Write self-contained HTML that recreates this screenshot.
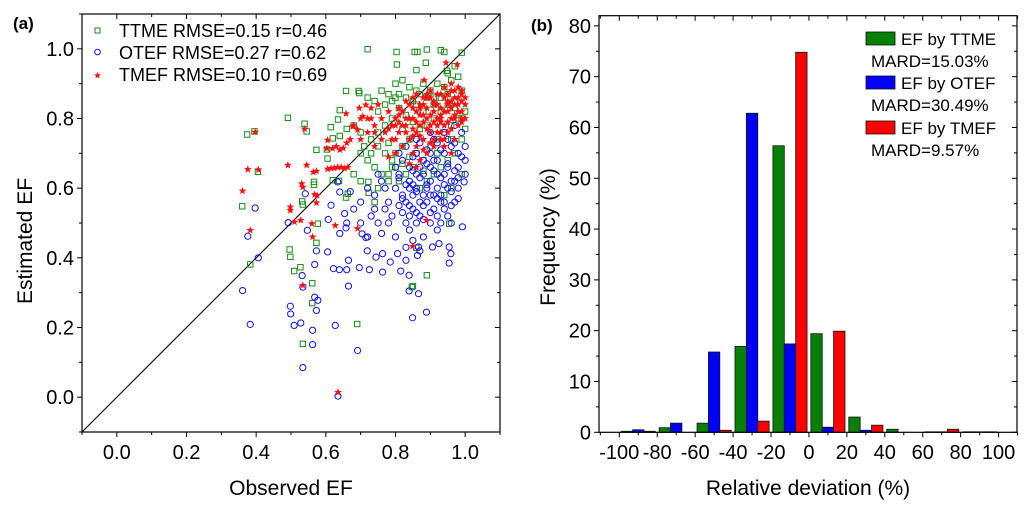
<!DOCTYPE html>
<html><head><meta charset="utf-8">
<style>
html,body{margin:0;padding:0;background:#fff;}
svg{display:block;font-family:"Liberation Sans",Arial,sans-serif;}
</style></head>
<body>
<svg id="fig" width="1024" height="508" viewBox="0 0 1024 508">
  <g id="pa"></g>
  <g id="pb"></g>
</svg>
<script>
// ---------- Panel (a) data ----------
const ttmeX = [0.374,0.395,0.36,0.405,0.383,0.491,0.539,0.545,0.573,0.566,0.566,0.532,0.534,0.577,0.573,0.496,0.498,0.509,0.527,0.561,0.561,0.534,0.69,0.72,0.803,0.855,0.863,0.89,0.93,0.94,0.99,0.887,0.804,0.86,0.947,0.658,0.694,0.696,0.64,0.635,0.614,0.62,0.603,0.605,0.62,0.638,0.663,0.658,0.722,0.723,0.954,0.89,0.847,0.85,0.86,0.79,
0.72,0.74,0.76,0.78,0.80,0.82,0.84,0.86,0.88,0.9,0.92,0.94,0.96,0.98,0.99,0.97,0.95,0.93,0.91,0.89,0.87,0.85,0.83,0.81,0.79,0.77,0.75,0.73,0.71,0.7,0.72,0.74,0.76,0.78,0.8,0.82,0.84,0.86,0.88,0.9,0.92,0.94,0.96,0.98,1.0,1.0,0.99,0.97,0.95,0.93,0.91,0.89,0.87,0.85,0.83,0.81,0.79,0.77,0.75,0.73,0.7,0.68,0.66,0.64,0.7,0.68,0.96,0.94,0.99,0.86,0.88,0.8,0.82,0.91,0.97,0.95,0.78,0.75,0.74,
0.75,0.77,0.79,0.81,0.83,0.85,0.87,0.89,0.91,0.93,0.95,0.97,0.99,0.8,0.84,0.88,0.92,0.96,0.78,0.82];
const ttmeY = [0.754,0.763,0.548,0.647,0.381,0.802,0.785,0.763,0.71,0.618,0.61,0.562,0.553,0.498,0.443,0.424,0.403,0.362,0.373,0.327,0.27,0.153,0.21,0.999,0.991,0.991,0.991,0.998,0.996,0.991,0.989,0.96,0.955,0.939,0.937,0.879,0.879,0.873,0.824,0.797,0.775,0.743,0.711,0.685,0.623,0.621,0.584,0.573,0.618,0.587,0.498,0.35,0.316,0.319,0.429,0.66,
0.86,0.85,0.88,0.87,0.9,0.91,0.89,0.88,0.9,0.88,0.9,0.89,0.91,0.92,0.88,0.85,0.84,0.82,0.8,0.78,0.77,0.79,0.81,0.83,0.8,0.78,0.76,0.74,0.72,0.7,0.68,0.66,0.64,0.62,0.7,0.72,0.74,0.7,0.68,0.72,0.74,0.76,0.78,0.8,0.82,0.77,0.74,0.7,0.68,0.66,0.64,0.62,0.6,0.66,0.64,0.62,0.68,0.7,0.72,0.7,0.76,0.78,0.77,0.75,0.62,0.64,0.6,0.58,0.64,0.84,0.82,0.86,0.77,0.86,0.95,0.93,0.73,0.6,0.56,
0.82,0.84,0.85,0.87,0.86,0.85,0.87,0.86,0.84,0.86,0.87,0.83,0.8,0.66,0.69,0.65,0.7,0.74,0.64,0.67];
const otefX = [0.361,0.383,0.376,0.397,0.406,0.492,0.498,0.499,0.509,0.528,0.534,0.532,0.534,0.541,0.547,0.568,0.568,0.577,0.573,0.562,0.562,0.573,0.605,0.615,0.607,0.622,0.639,0.627,0.635,0.634,0.64,0.654,0.658,0.665,0.665,0.66,0.691,0.696,0.719,0.725,0.704,0.715,0.744,0.763,0.763,0.785,0.806,0.815,0.83,0.839,0.839,0.866,0.849,0.889,0.866,0.863,0.906,0.925,0.954,0.959,0.954,0.997,0.992,
0.72,0.74,0.76,0.78,0.8,0.82,0.84,0.86,0.88,0.9,0.92,0.94,0.96,0.98,1.0,0.73,0.75,0.77,0.79,0.81,0.83,0.85,0.87,0.89,0.91,0.93,0.95,0.97,0.72,0.76,0.8,0.84,0.88,0.92,0.96,0.8,0.82,0.84,0.86,0.88,0.9,0.92,0.94,0.96,0.98,1.0,0.86,0.9,0.94,0.97,0.99,0.92,0.83,0.85,0.87,0.89,0.91,0.93,0.86,0.88,0.84,0.9,0.92,0.95,0.97,0.7,0.68,0.66,0.64,0.67,0.7,0.74,0.78,0.82,0.86,0.9,0.94,0.98,1.0,0.81,0.77,0.75,0.85,0.83,0.87,
0.81,0.83,0.85,0.87,0.89,0.91,0.93,0.95,0.97,0.99,0.82,0.84,0.86,0.88,0.9,0.92,0.94,0.96,0.98,0.81,0.83,0.85,0.87,0.89,0.91,0.93,0.95,0.97,0.84,0.86,0.88,0.9,0.92,0.94,0.96,0.98,0.85,0.87,0.89,0.91,0.93,0.95];
const otefY = [0.306,0.209,0.462,0.543,0.4,0.501,0.261,0.239,0.206,0.213,0.085,0.349,0.316,0.584,0.479,0.381,0.287,0.278,0.249,0.192,0.151,0.42,0.417,0.551,0.51,0.369,0.366,0.206,0.003,0.618,0.589,0.527,0.486,0.393,0.319,0.366,0.134,0.372,0.42,0.366,0.469,0.458,0.402,0.412,0.359,0.388,0.412,0.362,0.393,0.35,0.305,0.297,0.228,0.244,0.431,0.407,0.431,0.441,0.385,0.412,0.431,0.618,0.489,
0.6,0.58,0.62,0.56,0.6,0.58,0.62,0.6,0.64,0.62,0.6,0.64,0.62,0.66,0.64,0.52,0.5,0.54,0.52,0.55,0.5,0.54,0.52,0.56,0.54,0.5,0.52,0.56,0.46,0.47,0.46,0.48,0.46,0.48,0.5,0.66,0.68,0.66,0.7,0.68,0.7,0.68,0.7,0.72,0.7,0.72,0.74,0.76,0.76,0.78,0.76,0.73,0.56,0.58,0.56,0.6,0.58,0.56,0.64,0.58,0.6,0.66,0.64,0.6,0.62,0.56,0.54,0.5,0.47,0.59,0.5,0.54,0.5,0.53,0.5,0.5,0.54,0.6,0.68,0.64,0.6,0.64,0.45,0.43,0.42,
0.63,0.61,0.65,0.63,0.67,0.65,0.63,0.67,0.65,0.69,0.57,0.55,0.59,0.55,0.58,0.57,0.61,0.59,0.63,0.7,0.72,0.69,0.73,0.71,0.74,0.71,0.74,0.73,0.52,0.53,0.51,0.53,0.52,0.56,0.55,0.57,0.61,0.66,0.61,0.68,0.58,0.66];
const tmefX = [0.397,0.376,0.361,0.383,0.406,0.491,0.545,0.531,0.534,0.498,0.498,0.51,0.528,0.539,0.564,0.573,0.568,0.575,0.573,0.56,0.562,0.534,0.627,0.635,0.691,0.849,0.889,0.605,0.615,0.624,0.634,0.644,0.653,0.663,0.603,0.619,0.63,0.64,0.65,0.66,0.67,0.605,0.658,0.677,0.691,0.696,0.706,0.715,0.945,0.977,0.882,
0.76,0.78,0.8,0.82,0.84,0.86,0.88,0.9,0.92,0.94,0.96,0.98,1.0,0.77,0.79,0.81,0.83,0.85,0.87,0.89,0.91,0.93,0.95,0.97,0.99,0.8,0.82,0.84,0.86,0.88,0.9,0.92,0.94,0.96,0.98,1.0,0.85,0.87,0.89,0.91,0.93,0.95,0.97,0.84,0.86,0.9,0.92,0.94,0.96,0.98,0.99,0.88,0.86,0.74,0.72,0.7,0.72,0.74,0.7,0.68,0.75,0.73,0.83,0.85,0.87,0.89,0.91,0.93,0.95,0.97,0.99,0.81,0.79,0.78,0.8,0.94,0.96,
0.81,0.83,0.85,0.87,0.89,0.91,0.93,0.95,0.97,0.99,0.82,0.84,0.86,0.88,0.9,0.92,0.94,0.96,0.98,1.0,0.81,0.83,0.85,0.87,0.89,0.91,0.93,0.95,0.97,0.99,0.86,0.88,0.9,0.92,0.94,0.96,0.98,0.87,0.89,0.91,0.93,0.95,0.97,0.78,0.8,0.76,0.74,0.73,0.9,0.93,0.96,0.99,0.88,0.85];
const tmefY = [0.761,0.654,0.592,0.479,0.653,0.666,0.666,0.613,0.603,0.546,0.536,0.503,0.508,0.77,0.646,0.649,0.582,0.579,0.558,0.498,0.46,0.321,0.493,0.014,0.484,0.433,0.508,0.655,0.657,0.658,0.66,0.66,0.657,0.66,0.714,0.714,0.72,0.71,0.715,0.73,0.74,0.738,0.814,0.777,0.768,0.83,0.806,0.839,0.96,0.955,0.91,
0.8,0.82,0.8,0.82,0.84,0.82,0.84,0.86,0.84,0.86,0.88,0.86,0.84,0.76,0.78,0.76,0.78,0.8,0.78,0.8,0.82,0.8,0.82,0.84,0.82,0.74,0.72,0.74,0.76,0.74,0.76,0.78,0.78,0.8,0.78,0.8,0.7,0.68,0.7,0.72,0.74,0.76,0.74,0.67,0.66,0.88,0.87,0.89,0.9,0.89,0.87,0.86,0.87,0.78,0.76,0.74,0.8,0.72,0.8,0.78,0.84,0.83,0.8,0.83,0.81,0.83,0.79,0.83,0.85,0.81,0.85,0.79,0.74,0.69,0.7,0.72,0.7,
0.83,0.85,0.86,0.83,0.87,0.84,0.87,0.87,0.86,0.88,0.78,0.8,0.79,0.81,0.78,0.8,0.82,0.83,0.84,0.86,0.81,0.76,0.77,0.75,0.77,0.74,0.76,0.79,0.8,0.79,0.72,0.71,0.73,0.76,0.74,0.77,0.82,0.84,0.86,0.85,0.81,0.84,0.88,0.77,0.78,0.74,0.76,0.8,0.81,0.79,0.85,0.8,0.79,0.75];
const axTicksA = [0.0,0.2,0.4,0.6,0.8,1.0];
const axTickLabelsA = ["0.0","0.2","0.4","0.6","0.8","1.0"];

// ---------- Panel (b) data ----------
const binCenters = [-90,-70,-50,-30,-10,10,30,50,70,90];
const freqTTME = [0.2,0.9,1.8,16.9,56.4,19.4,3.0,0.6,0.1,0.1];
const freqOTEF = [0.5,1.8,15.8,62.8,17.4,1.0,0.4,0.0,0.1,0.1];
const freqTMEF = [0.2,0.0,0.4,2.2,74.8,19.9,1.4,0.0,0.6,0.1];
const xTicksB = [-100,-80,-60,-40,-20,0,20,40,60,80,100];
const yTicksB = [0,10,20,30,40,50,60,70,80];

const NS = "http://www.w3.org/2000/svg";
function mk(parent, tag, attrs, text){
  const e = document.createElementNS(NS, tag);
  for (const k in attrs) e.setAttribute(k, attrs[k]);
  if (text !== undefined) e.textContent = text;
  parent.appendChild(e);
  return e;
}

// ===== Panel (a) =====
const pa = document.getElementById('pa');
const A = {l:82,r:500,t:14,b:432,min:-0.1,max:1.1};
const ax = v => A.l + (v - A.min)/(A.max - A.min)*(A.r - A.l);
const ay = v => A.b - (v - A.min)/(A.max - A.min)*(A.b - A.t);

let ln = mk(pa,'line',{x1:ax(-0.1),y1:ay(-0.1),x2:ax(1.1),y2:ay(1.1),stroke:'#000','stroke-width':1.1});



function starPath(cx,cy,R){
  const r = R*0.42; let d='';
  for(let i=0;i<10;i++){
    const a = -Math.PI/2 + i*Math.PI/5;
    const rr = i%2===0?R:r;
    d += (i===0?'M':'L') + (cx+rr*Math.cos(a)).toFixed(2)+','+(cy+rr*Math.sin(a)).toFixed(2);
  }
  return d+'Z';
}
const gG = mk(pa,'g',{});


for(let i=0;i<Math.min(ttmeX.length,ttmeY.length);i++){
  const m = mk(gG,'rect',{x:ax(ttmeX[i])-2.7,y:ay(ttmeY[i])-2.7,width:5.4,height:5.4,fill:'none',stroke:'#1a8a1a','stroke-width':1});
  
  
}
const gB = mk(pa,'g',{});


for(let i=0;i<Math.min(otefX.length,otefY.length);i++){
  const m = mk(gB,'circle',{cx:ax(otefX[i]),cy:ay(otefY[i]),r:3.1,fill:'none',stroke:'#1010f0','stroke-width':1});
  
  
}
const gR = mk(pa,'g',{});


for(let i=0;i<Math.min(tmefX.length,tmefY.length);i++){
  const m = mk(gR,'path',{d:starPath(ax(tmefX[i]),ay(tmefY[i]),4.1),fill:'#ff1010'});
  
  
}

let fr = mk(pa,'rect',{x:A.l,y:A.t,width:A.r-A.l,height:A.b-A.t,fill:'none',stroke:'#000','stroke-width':1.2});


for(let k=-1; k<=11; k++){
  const v = k/10;
  const major = k%2===0;
  const L = major?5:3;
  const X = ax(v), Y = ay(v);
  mk(pa,'line',{x1:X,y1:A.b,x2:X,y2:A.b+L,stroke:'#000','stroke-width':1});
  mk(pa,'line',{x1:X,y1:A.t,x2:X,y2:A.t+L,stroke:'#000','stroke-width':1});
  mk(pa,'line',{x1:A.l-L,y1:Y,x2:A.l,y2:Y,stroke:'#000','stroke-width':1});
  mk(pa,'line',{x1:A.r-L,y1:Y,x2:A.r,y2:Y,stroke:'#000','stroke-width':1});
}
axTicksA.forEach((v,i)=>{
  let t = mk(pa,'text',{x:ax(v),y:459,'font-size':20,'text-anchor':'middle'},axTickLabelsA[i]);
  
  
  t = mk(pa,'text',{x:74,y:ay(v)+7,'font-size':20,'text-anchor':'end'},axTickLabelsA[i]);
  
  
});
let t;
t = mk(pa,'text',{x:291,y:495,'font-size':21,'text-anchor':'middle'},'Observed EF');


t = mk(pa,'text',{x:0,y:0,'font-size':21,'text-anchor':'middle',transform:'translate(32,241) rotate(-90)'},'Estimated EF');


t = mk(pa,'text',{x:13,y:29,'font-size':17,'font-weight':'bold'},'(a)');


const legA = mk(pa,'g',{});


mk(legA,'rect',{x:95,y:28,width:5,height:5,fill:'none',stroke:'#1a8a1a','stroke-width':1});
mk(legA,'circle',{cx:97.5,cy:52,r:2.8,fill:'none',stroke:'#1010f0','stroke-width':1});
mk(legA,'path',{d:starPath(97.5,75.5,3.6),fill:'#ff1010'});
t = mk(legA,'text',{x:119,y:37,'font-size':18},'TTME RMSE=0.15 r=0.46');


t = mk(legA,'text',{x:119,y:59,'font-size':18},'OTEF RMSE=0.27 r=0.62');


t = mk(legA,'text',{x:119,y:81,'font-size':18},'TMEF RMSE=0.10 r=0.69');



// ===== Panel (b) =====
const pb = document.getElementById('pb');
const B = {l:599,r:1017,t:15.7,b:432.3,xmin:-110.7,xmax:109.7,ymin:0,ymax:82};
const bx = v => B.l + (v - B.xmin)/(B.xmax - B.xmin)*(B.r - B.l);
const by = v => B.b - (v - B.ymin)/(B.ymax - B.ymin)*(B.b - B.t);
const series = [[freqTTME,'#068006',-6,'ttme'],[freqOTEF,'#0000ff',0,'otef'],[freqTMEF,'#ff0000',6,'tmef']];
series.forEach(s=>{
  const g = mk(pb,'g',{});
  
  
  binCenters.forEach((c,i)=>{
    const v = s[0][i];
    const x0 = bx(c + s[2] - 3), x1 = bx(c + s[2] + 3);
    const r = mk(g,'rect',{x:x0,y:by(v),width:x1-x0,height:Math.max(0,by(0)-by(v)),fill:s[1],stroke:'#111','stroke-width':0.8});
    
    
  });
});
fr = mk(pb,'rect',{x:B.l,y:B.t,width:B.r-B.l,height:B.b-B.t,fill:'none',stroke:'#000','stroke-width':1.2});


for(let v=-110; v<=110; v+=10){
  const major = v%20===0; const L = major?5:3; const X=bx(v);
  mk(pb,'line',{x1:X,y1:B.b,x2:X,y2:B.b+L,stroke:'#000','stroke-width':1});
  mk(pb,'line',{x1:X,y1:B.t,x2:X,y2:B.t+L,stroke:'#000','stroke-width':1});
}
for(let v=0; v<=80; v+=5){
  const major = v%10===0; const L = major?5:3; const Y=by(v);
  mk(pb,'line',{x1:B.l-L,y1:Y,x2:B.l,y2:Y,stroke:'#000','stroke-width':1});
  mk(pb,'line',{x1:B.r-L,y1:Y,x2:B.r,y2:Y,stroke:'#000','stroke-width':1});
}
xTicksB.forEach(v=>{
  const tt = mk(pb,'text',{x:bx(v),y:459,'font-size':20,'text-anchor':'middle'},String(v));
  
  
});
yTicksB.forEach(v=>{
  const tt = mk(pb,'text',{x:591,y:by(v)+7,'font-size':20,'text-anchor':'end'},String(v));
  
  
});
t = mk(pb,'text',{x:808,y:495,'font-size':21,'text-anchor':'middle'},'Relative deviation (%)');


t = mk(pb,'text',{x:0,y:0,'font-size':21,'text-anchor':'middle',transform:'translate(555,237) rotate(-90)'},'Frequency (%)');


t = mk(pb,'text',{x:531,y:31,'font-size':17,'font-weight':'bold'},'(b)');


const legB = mk(pb,'g',{});


[['#068006','EF by TTME','MARD=15.03%',32],['#0000ff','EF by OTEF','MARD=30.49%',76],['#ff0000','EF by TMEF','MARD=9.57%',121]].forEach(e=>{
  mk(legB,'rect',{x:866,y:e[3],width:29,height:13,fill:e[0],stroke:'#111','stroke-width':0.8});
  const a = mk(legB,'text',{x:901,y:e[3]+13,'font-size':17},e[1]);
  
  
  const b = mk(legB,'text',{x:871,y:e[3]+35,'font-size':17},e[2]);
  
  
});
</script>
</body></html>
